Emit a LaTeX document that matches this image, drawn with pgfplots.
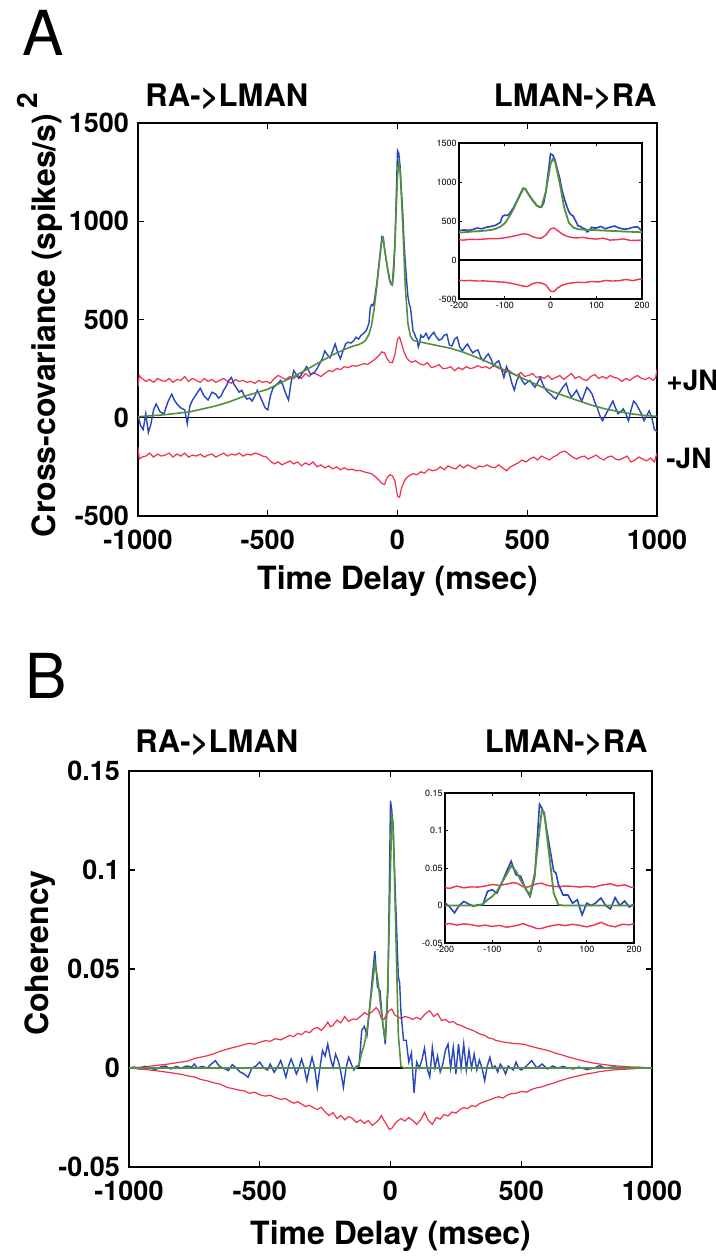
\documentclass[border=0pt]{standalone}
\usepackage{fontspec}
\setmainfont{TeX Gyre Heros}
\usepackage{pgfplots}
\pgfplotsset{compat=1.18}
\usepackage{pgfplotstable}
\definecolor{cblue}{RGB}{40,70,190}
\definecolor{cgreen}{RGB}{85,145,60}
\definecolor{cred}{RGB}{240,50,80}

% ---------------- Panel A data ----------------
\pgfplotstableread{
x y
-1000 10
-990 -40
-980 -60
-970 20
-960 -75
-950 -30
-940 40
-930 70
-915 30
-900 20
-885 80
-870 120
-860 90
-850 70
-835 50
-820 40
-810 -30
-800 60
-790 90
-775 120
-760 150
-745 110
-730 90
-715 130
-700 120
-690 100
-680 110
-670 140
-660 160
-650 190
-640 205
-630 170
-620 150
-610 130
-600 140
-590 110
-580 95
-570 100
-560 85
-550 110
-540 140
-530 110
-520 80
-510 50
-500 40
-490 110
-480 150
-465 170
-450 190
-440 160
-430 120
-420 90
-410 180
-400 240
-390 220
-380 200
-365 230
-350 260
-335 220
-320 230
-310 250
-300 275
-290 300
-280 340
-270 320
-260 305
-250 340
-240 375
-230 330
-220 300
-210 340
-200 375
-190 385
-180 380
-170 390
-160 410
-150 400
-140 420
-130 430
-120 445
-110 480
-105 560
-100 575
-95 570
-90 590
-80 680
-70 800
-60 920
-55 910
-50 860
-40 775
-30 700
-25 680
-20 675
-15 730
-10 880
-5 1120
0 1360
5 1345
10 1280
15 1160
20 1050
25 900
30 790
35 700
40 620
45 580
50 560
55 500
60 440
65 430
70 410
75 400
80 360
85 380
90 420
95 410
100 410
110 430
120 400
130 420
140 435
150 410
160 395
170 400
180 420
190 425
200 370
210 365
220 400
230 410
240 360
250 340
260 360
270 375
280 350
290 330
300 340
310 345
320 310
330 290
340 310
350 325
360 300
370 265
380 280
390 290
400 250
410 205
420 260
430 230
440 180
450 140
460 190
470 215
480 190
490 170
500 180
510 190
520 170
530 155
540 180
550 205
560 170
570 145
580 130
590 120
600 105
610 95
620 120
630 140
640 160
650 175
660 130
670 105
680 120
690 140
700 110
710 85
720 120
730 155
740 140
750 120
760 80
770 50
780 10
790 -15
800 10
810 35
820 60
830 85
840 50
850 20
860 30
870 45
880 20
890 -15
900 40
910 85
920 70
930 45
940 20
950 -15
960 10
970 35
980 0
990 -60
1000 -70
}\blueA

\pgfplotstableread{
x y
-1000 5
-900 15
-800 30
-700 60
-650 80
-600 105
-550 125
-500 145
-450 178
-400 210
-350 245
-300 283
-250 320
-200 350
-170 365
-150 372
-130 385
-120 400
-110 425
-100 470
-90 555
-80 665
-70 790
-60 905
-55 915
-50 860
-40 770
-30 695
-20 678
-10 880
0 1230
5 1295
10 1260
20 990
30 670
40 480
50 415
60 395
70 390
100 382
150 368
200 355
250 335
300 310
350 282
400 250
450 220
500 190
550 160
600 132
650 108
700 85
750 63
800 45
850 32
900 20
950 12
1000 7
}\greenA

\pgfplotstableread{
x y
-1000 160
-995 215
-985 200
-970 185
-955 195
-940 180
-925 200
-910 190
-895 185
-880 200
-865 180
-850 195
-835 190
-820 210
-805 185
-790 200
-775 190
-760 180
-745 200
-730 185
-715 195
-700 180
-685 190
-670 200
-655 185
-640 175
-625 195
-610 185
-595 190
-580 180
-565 185
-550 175
-535 190
-520 180
-505 185
-490 175
-475 200
-460 215
-445 205
-430 195
-415 210
-400 200
-385 215
-370 200
-355 225
-340 210
-325 230
-310 220
-295 210
-280 225
-265 240
-250 235
-235 250
-220 245
-205 260
-190 255
-175 265
-160 262
-145 268
-130 275
-115 272
-100 285
-85 300
-70 320
-60 335
-50 330
-40 300
-30 282
-20 280
-10 320
0 400
8 410
15 380
25 335
35 305
45 290
55 282
70 290
85 275
100 268
115 280
130 255
145 260
160 270
175 250
190 252
205 260
220 240
235 255
250 245
265 260
280 250
295 255
310 265
325 255
340 260
355 250
370 265
385 255
400 245
415 230
430 240
445 225
460 215
475 230
490 210
505 215
520 225
535 205
550 210
565 200
580 215
595 195
610 205
625 215
640 195
655 210
670 225
685 200
700 210
715 195
730 190
745 210
760 220
775 200
790 210
805 200
820 215
835 205
850 200
865 185
880 200
895 190
910 205
925 215
940 200
955 195
970 205
985 190
995 205
1000 245
}\redAup

\pgfplotstableread{
x y
-1000 -150
-995 -210
-985 -200
-970 -195
-955 -180
-940 -200
-925 -185
-910 -195
-895 -190
-880 -180
-865 -200
-850 -185
-835 -195
-820 -180
-805 -200
-790 -190
-775 -195
-760 -185
-745 -200
-730 -190
-715 -185
-700 -200
-685 -190
-670 -180
-655 -195
-640 -185
-625 -190
-610 -180
-595 -195
-580 -185
-565 -190
-550 -180
-535 -185
-520 -195
-505 -200
-490 -220
-475 -235
-460 -225
-445 -240
-430 -230
-415 -220
-400 -235
-385 -225
-370 -245
-355 -230
-340 -240
-325 -225
-310 -250
-295 -240
-280 -255
-265 -245
-250 -260
-235 -250
-220 -265
-205 -255
-190 -265
-175 -262
-160 -270
-145 -268
-130 -275
-115 -280
-100 -285
-85 -300
-70 -320
-60 -335
-50 -340
-40 -305
-30 -290
-20 -295
-10 -320
0 -400
8 -405
15 -360
25 -325
35 -305
45 -295
60 -285
75 -290
90 -275
105 -282
120 -262
135 -270
150 -265
165 -250
180 -265
195 -245
210 -255
225 -260
240 -240
255 -255
270 -240
285 -250
300 -260
315 -245
330 -250
345 -240
360 -250
375 -255
390 -240
405 -255
420 -270
435 -250
450 -240
465 -230
480 -215
495 -225
510 -210
525 -200
540 -215
555 -195
570 -205
585 -215
600 -200
615 -190
630 -175
645 -170
660 -185
675 -200
690 -210
705 -200
720 -195
735 -210
750 -200
765 -190
780 -205
795 -215
810 -200
825 -195
840 -210
855 -215
870 -205
885 -195
900 -225
915 -215
930 -200
945 -210
960 -220
975 -205
990 -225
1000 -180
}\redAlo

% ---------------- Panel B data ----------------
\pgfplotstableread{
x y
-1000 0
-980 0.0005
-960 -0.0005
-940 0.0008
-920 0
-900 -0.0008
-880 0.0005
-860 0.001
-840 -0.0005
-820 0.0008
-800 0
-780 0.001
-760 0.0005
-750 0.002
-740 0
-720 0.0008
-700 0
-685 0.002
-670 0.0037
-655 0.001
-640 0
-620 -0.0013
-605 0.0017
-590 0
-575 -0.002
-560 -0.003
-545 -0.0047
-530 0
-515 0.001
-500 0.003
-485 0
-470 -0.001
-460 0.002
-445 -0.0022
-430 0.001
-420 0.0037
-410 0
-400 -0.0047
-390 0.001
-380 0.0045
-370 0.001
-360 -0.003
-350 0
-340 0.0045
-330 0
-320 -0.0064
-310 0
-300 0.0054
-290 0
-280 -0.0098
-270 0
-260 0.0088
-250 0.006
-240 0.0121
-230 0.005
-220 0.0003
-210 0.007
-200 0.0037
-190 -0.002
-180 -0.0098
-170 0
-160 0.0054
-150 0.002
-140 -0.001
-130 0.001
-120 0.001
-110 0.019
-100 0.021
-90 0.0165
-80 0.03
-70 0.045
-60 0.059
-50 0.041
-40 0.039
-30 0.023
-20 0.012
-10 0.039
0 0.135
5 0.13
10 0.121
20 0.083
30 0.046
35 0.043
40 0.028
50 0.014
60 0.014
70 0.003
80 0.0076
90 -0.0125
100 0.003
110 0
120 0.004
130 0.01
140 0
150 -0.0045
160 0.0104
170 0
180 0.006
190 -0.002
200 0.002
210 0.009
220 0.0121
230 0
240 0.0104
250 -0.003
260 0.0121
270 0
280 0.0121
290 -0.001
300 0.0088
310 0
320 0.007
330 -0.001
340 0.004
350 0
360 -0.0064
370 0.001
380 0.0054
390 0
400 0.001
410 -0.002
420 0.002
430 0
440 -0.003
450 0.001
460 0
470 -0.001
480 0.003
490 0
500 -0.001
520 0.001
540 0.0037
560 0
580 0.002
600 -0.0005
620 0.001
640 0
660 0.0008
680 0
700 -0.0005
720 0.0005
750 -0.0008
780 0
800 0.0012
820 0
850 0.0005
900 0
950 0.0003
1000 0
}\blueB

\pgfplotstableread{
x y
-1000 0
-130 0
-120 0.002
-110 0.0076
-100 0.012
-90 0.019
-80 0.03
-70 0.041
-60 0.053
-50 0.046
-40 0.034
-30 0.023
-20 0.014
-10 0.043
0 0.101
5 0.127
10 0.124
20 0.07
30 0.0165
40 0.001
50 0
1000 0
}\greenB

\pgfplotstableread{
x y
-1000 0
-950 0.0005
-900 0.0012
-850 0.002
-800 0.003
-775 0.0035
-750 0.0048
-725 0.0055
-700 0.0062
-675 0.0072
-650 0.0085
-625 0.0095
-600 0.0104
-580 0.011
-560 0.0118
-540 0.0125
-520 0.012
-500 0.013
-480 0.0138
-460 0.0135
-440 0.0148
-420 0.0142
-400 0.0155
-385 0.0165
-370 0.0158
-355 0.0175
-340 0.0168
-325 0.0185
-310 0.0178
-295 0.0197
-280 0.0205
-265 0.019
-250 0.021
-240 0.0232
-230 0.0208
-220 0.0215
-205 0.0242
-190 0.0228
-175 0.026
-160 0.0235
-145 0.0248
-130 0.0245
-115 0.026
-100 0.028
-85 0.0268
-70 0.0285
-55 0.0305
-45 0.029
-35 0.025
-25 0.0245
-15 0.027
-5 0.029
5 0.0298
15 0.027
25 0.026
40 0.025
55 0.026
70 0.0255
85 0.0245
100 0.0256
115 0.0245
130 0.027
150 0.029
165 0.026
180 0.0275
195 0.024
210 0.0245
225 0.023
240 0.0235
255 0.022
270 0.0215
285 0.0205
300 0.0197
315 0.019
330 0.018
345 0.017
360 0.0165
375 0.0152
390 0.0148
405 0.0138
420 0.0135
435 0.013
450 0.0128
470 0.0124
490 0.0122
510 0.012
530 0.0112
550 0.0105
570 0.0098
590 0.0092
610 0.0085
630 0.0075
650 0.0068
670 0.006
690 0.0052
710 0.0045
730 0.0038
750 0.0032
775 0.0025
800 0.002
850 0.0012
900 0.0007
950 0.0003
1000 0
}\redBup

\pgfplotstableread{
x y
-1000 0
-950 -0.0006
-900 -0.0013
-850 -0.0022
-800 -0.0032
-775 -0.004
-750 -0.0045
-725 -0.0058
-700 -0.0065
-675 -0.0075
-650 -0.0082
-625 -0.0098
-600 -0.0105
-580 -0.0112
-560 -0.0115
-540 -0.0128
-520 -0.0122
-500 -0.0135
-480 -0.0142
-460 -0.0138
-440 -0.015
-420 -0.0158
-400 -0.0155
-385 -0.0168
-370 -0.0178
-355 -0.017
-340 -0.0182
-325 -0.0195
-310 -0.0188
-295 -0.02
-280 -0.021
-265 -0.0198
-250 -0.0222
-235 -0.024
-220 -0.0225
-205 -0.0255
-190 -0.024
-175 -0.0262
-160 -0.0245
-145 -0.0255
-130 -0.0275
-115 -0.0262
-100 -0.028
-85 -0.0265
-70 -0.029
-55 -0.0275
-45 -0.0262
-35 -0.024
-25 -0.0265
-15 -0.0285
-5 -0.031
5 -0.0305
15 -0.0285
25 -0.027
40 -0.0255
55 -0.0268
70 -0.025
85 -0.0265
100 -0.0285
115 -0.0262
130 -0.0225
145 -0.0265
160 -0.0285
175 -0.025
190 -0.0258
205 -0.0235
220 -0.0242
235 -0.0222
250 -0.0228
265 -0.021
280 -0.02
295 -0.0205
310 -0.019
325 -0.0195
340 -0.018
355 -0.0172
370 -0.0165
385 -0.0158
400 -0.015
415 -0.0145
430 -0.0152
445 -0.0138
460 -0.013
480 -0.0128
500 -0.0118
520 -0.0122
540 -0.0108
560 -0.01
580 -0.0095
600 -0.0085
620 -0.0078
640 -0.0068
660 -0.006
680 -0.0052
700 -0.0045
725 -0.0038
750 -0.003
775 -0.0025
800 -0.0018
850 -0.001
900 -0.0006
950 -0.0002
1000 0
}\redBlo

\pgfplotsset{
  mainax/.style={
    scale only axis,
    axis line style={black, line width=0.8pt},
    tick style={black, line width=0.6pt},
    major tick length=3pt,
    tick align=inside,
    xmin=-1000, xmax=1000,
    xtick={-1000,-500,0,500,1000},
    xticklabels={-1000,-500,0,500,1000},
    ticklabel style={font=\bfseries\fontsize{13.5}{14}\selectfont},
    xticklabel style={yshift=-3.5pt},
    yticklabel style={xshift=-1pt},
    axis background/.style={fill=white},
  },
  inax/.style={
    scale only axis,
    axis line style={black, line width=0.6pt},
    tick style={black, line width=0.4pt},
    major tick length=1.5pt,
    tick align=inside,
    xmin=-200, xmax=200,
    xtick={-200,-100,0,100,200},
    xticklabels={-200,-100,0,100,200},
    ticklabel style={font=\fontsize{4.5}{5}\selectfont, inner sep=1pt},
    xticklabel style={yshift=-0.5pt},
    axis background/.style={fill=white},
  },
}

\begin{document}
\begin{tikzpicture}
\path[use as bounding box] (0,0) rectangle (358pt,628.5pt);

% ---------- Panel A ----------
\node[font=\fontsize{31}{31}\selectfont] at (21.5pt,612pt) {A};
\node[anchor=base west, inner sep=0, font=\bfseries\fontsize{15.5}{16}\selectfont] at (72.5pt,575pt) {RA->LMAN};
\node[anchor=base east, inner sep=0, font=\bfseries\fontsize{15.5}{16}\selectfont] at (328.5pt,575pt) {LMAN->RA};

\begin{axis}[mainax, name=A,
  at={(69pt,370.5pt)}, anchor=south west,
  width=259.5pt, height=196.5pt,
  ymin=-500, ymax=1500,
  ytick={-500,0,500,1000,1500},
  yticklabels={-500,0,500,1000,1500},
]
\addplot[black, line width=0.6pt] coordinates {(-1000,0) (1000,0)};
\addplot[cred, line width=0.6pt] table[x=x,y=y] {\redAup};
\addplot[cred, line width=0.6pt] table[x=x,y=y] {\redAlo};
\addplot[cblue, line width=0.7pt] table[x=x,y=y] {\blueA};
\addplot[cgreen, line width=0.8pt] table[x=x,y=y] {\greenA};
\end{axis}
\node[anchor=north, inner sep=0, font=\bfseries\fontsize{16}{18}\selectfont] at ([yshift=-24.5pt]A.south) {Time Delay (msec)};
\node[rotate=90, inner sep=0, font=\bfseries\fontsize{16}{18}\selectfont] at (20pt,471pt) {Cross-covariance (spikes/s)\,\raisebox{0.55em}{\fontsize{14}{14}\selectfont 2}};
\node[anchor=west, inner sep=0, font=\bfseries\fontsize{14}{14}\selectfont] at (333pt,438.5pt) {+JN};
\node[anchor=west, inner sep=0, font=\bfseries\fontsize{14}{14}\selectfont] at (333pt,399.5pt) {-JN};

\begin{axis}[inax,
  at={(229.5pt,479pt)}, anchor=south west,
  width=91.5pt, height=78pt,
  ymin=-500, ymax=1500,
  ytick={-500,0,500,1000,1500},
  yticklabels={-500,0,500,1000,1500},
]
\addplot[black, line width=0.6pt] coordinates {(-200,0) (200,0)};
\addplot[cred, line width=0.7pt] table[x=x,y=y] {\redAup};
\addplot[cred, line width=0.7pt] table[x=x,y=y] {\redAlo};
\addplot[cblue, line width=0.8pt] table[x=x,y=y] {\blueA};
\addplot[cgreen, line width=0.9pt] table[x=x,y=y] {\greenA};
\end{axis}

% ---------- Panel B ----------
\node[font=\fontsize{31}{31}\selectfont] at (23pt,290.5pt) {B};
\node[anchor=base west, inner sep=0, font=\bfseries\fontsize{15.5}{16}\selectfont] at (67.5pt,252pt) {RA->LMAN};
\node[anchor=base east, inner sep=0, font=\bfseries\fontsize{15.5}{16}\selectfont] at (324pt,252pt) {LMAN->RA};

\begin{axis}[mainax, name=B,
  at={(64.5pt,45pt)}, anchor=south west,
  width=261.5pt, height=198pt,
  ymin=-0.05, ymax=0.15,
  ytick={-0.05,0,0.05,0.1,0.15},
  yticklabels={-0.05,0,0.05,0.1,0.15},
]
\addplot[black, line width=0.6pt] coordinates {(-1000,0) (1000,0)};
\addplot[cred, line width=0.6pt] table[x=x,y=y] {\redBup};
\addplot[cred, line width=0.6pt] table[x=x,y=y] {\redBlo};
\addplot[cblue, line width=0.7pt] table[x=x,y=y] {\blueB};
\addplot[cgreen, line width=0.8pt] table[x=x,y=y] {\greenB};
\end{axis}
\node[anchor=north, inner sep=0, font=\bfseries\fontsize{16}{18}\selectfont] at ([yshift=-26.5pt]B.south) {Time Delay (msec)};
\node[rotate=90, inner sep=0, font=\bfseries\fontsize{16}{18}\selectfont] at (20pt,152pt) {Coherency};

\begin{axis}[inax,
  at={(222.5pt,157pt)}, anchor=south west,
  width=94.5pt, height=75pt,
  ymin=-0.05, ymax=0.15,
  ytick={-0.05,0,0.05,0.1,0.15},
  yticklabels={-0.05,0,0.05,0.1,0.15},
]
\addplot[black, line width=0.6pt] coordinates {(-200,0) (200,0)};
\addplot[cred, line width=0.7pt] table[x=x,y=y] {\redBup};
\addplot[cred, line width=0.7pt] table[x=x,y=y] {\redBlo};
\addplot[cblue, line width=0.8pt] table[x=x,y=y] {\blueB};
\addplot[cgreen, line width=0.9pt] table[x=x,y=y] {\greenB};
\end{axis}
\end{tikzpicture}
\end{document}
